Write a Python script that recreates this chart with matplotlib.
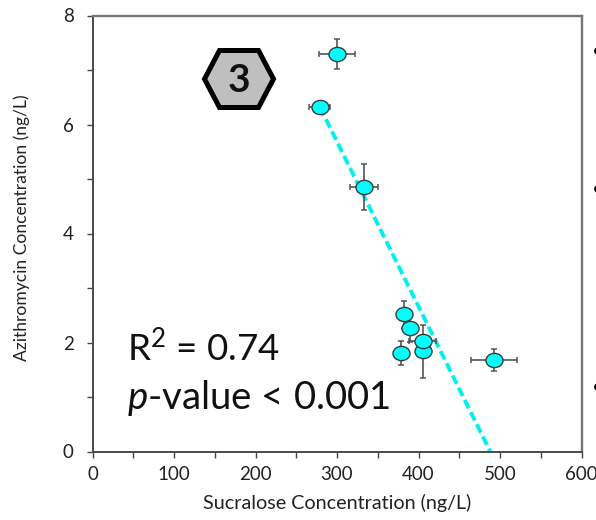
import matplotlib
matplotlib.use("Agg")
import matplotlib.pyplot as plt
from matplotlib.markers import MarkerStyle
from matplotlib.ticker import MultipleLocator
from matplotlib.transforms import Affine2D

sucralose = [300, 279, 333, 382, 390, 378, 406, 405, 492.5]
azithromycin = [7.29, 6.32, 4.85, 2.52, 2.26, 1.80, 1.84, 2.03, 1.68]
x_err = [22, 13, 17, 6, 7, 5, 5, 17, 28]
y_err = [0.28, 0.04, 0.42, 0.25, 0.25, 0.22, 0.49, 0.10, 0.20]
trend_x = [279, 488]
trend_y = [6.32, 0]

W, H = 596, 520
plt.rcParams['font.family'] = ['Lato', 'DejaVu Sans']
plt.rcParams['mathtext.fontset'] = 'custom'
plt.rcParams['mathtext.rm'] = 'Lato'
plt.rcParams['mathtext.it'] = 'Lato:italic'
plt.rcParams['mathtext.bf'] = 'Lato:bold'
fig = plt.figure(figsize=(W/100, H/100), dpi=100)
ax = fig.add_axes([92.5/W, 1-451.5/H, 489/W, 436/H])
ax.set_xlim(0, 600)
ax.set_ylim(0, 8)
for name, s in ax.spines.items():
    s.set_color('#4a4a4a' if name in ('left', 'bottom') else '#777777')
    s.set_linewidth(1.4 if name in ('left', 'bottom') else 1.7)
ax.xaxis.set_major_locator(MultipleLocator(100))
ax.xaxis.set_minor_locator(MultipleLocator(50))
ax.yaxis.set_major_locator(MultipleLocator(2))
ax.yaxis.set_minor_locator(MultipleLocator(1))
ax.tick_params(which='both', direction='out', length=4.5, width=1, color='#444444',
               labelsize=13.5, labelcolor='#222222', pad=6)
ax.tick_params(axis='y', which='major', pad=9)

ax.plot(trend_x, trend_y, color='#00f0f0', lw=2.8, dashes=(2.4, 1.1), zorder=2)
ax.errorbar(sucralose, azithromycin, xerr=x_err, yerr=y_err, fmt='none',
            ecolor='#555555', elinewidth=1.2, capsize=2.3, capthick=1.1, zorder=3)
ellipse = MarkerStyle('o', transform=Affine2D().scale(1.2, 1.0))
ax.scatter(sucralose, azithromycin, s=105, marker=ellipse, color='#00ffff',
           edgecolor='#3a3a3a', linewidth=1.0, zorder=4, clip_on=False)

ax.set_xlabel('Sucralose Concentration (ng/L)', fontsize=14.2, color='#222222')
ax.set_ylabel('Azithromycin Concentration (ng/L)', fontsize=12.6, color='#222222')
ax.xaxis.set_label_coords(0.5, -42/436)
ax.yaxis.set_label_coords(-62/489, 0.514)

# Hexagon badge
fig.patches.append(plt.Polygon(
    [(204.5/W, 1-79/H), (219.5/W, 1-50.5/H), (258.5/W, 1-50.5/H), (273.5/W, 1-79/H),
     (258.5/W, 1-107.5/H), (219.5/W, 1-107.5/H)],
    closed=True, transform=fig.transFigure, facecolor='#bfbfbf',
    edgecolor='black', linewidth=3.6, joinstyle='miter', zorder=5))
fig.text(239/W, 1-80/H, '3', fontsize=28, fontweight='bold', color='#111111',
         ha='center', va='center', zorder=6)

fig.text(127/W, 1-361/H, r'R$^{2}$ = 0.74', fontsize=26.5, color='#111111')
fig.text(127/W, 1-409/H, r'$\mathit{p}$-value < 0.001', fontsize=27.6, color='#111111')

for yy in (52, 190, 388):
    fig.text(592/W, 1-yy/H, '•', fontsize=15, color='black', va='center', ha='left')

fig.savefig('out.png', dpi=100)
